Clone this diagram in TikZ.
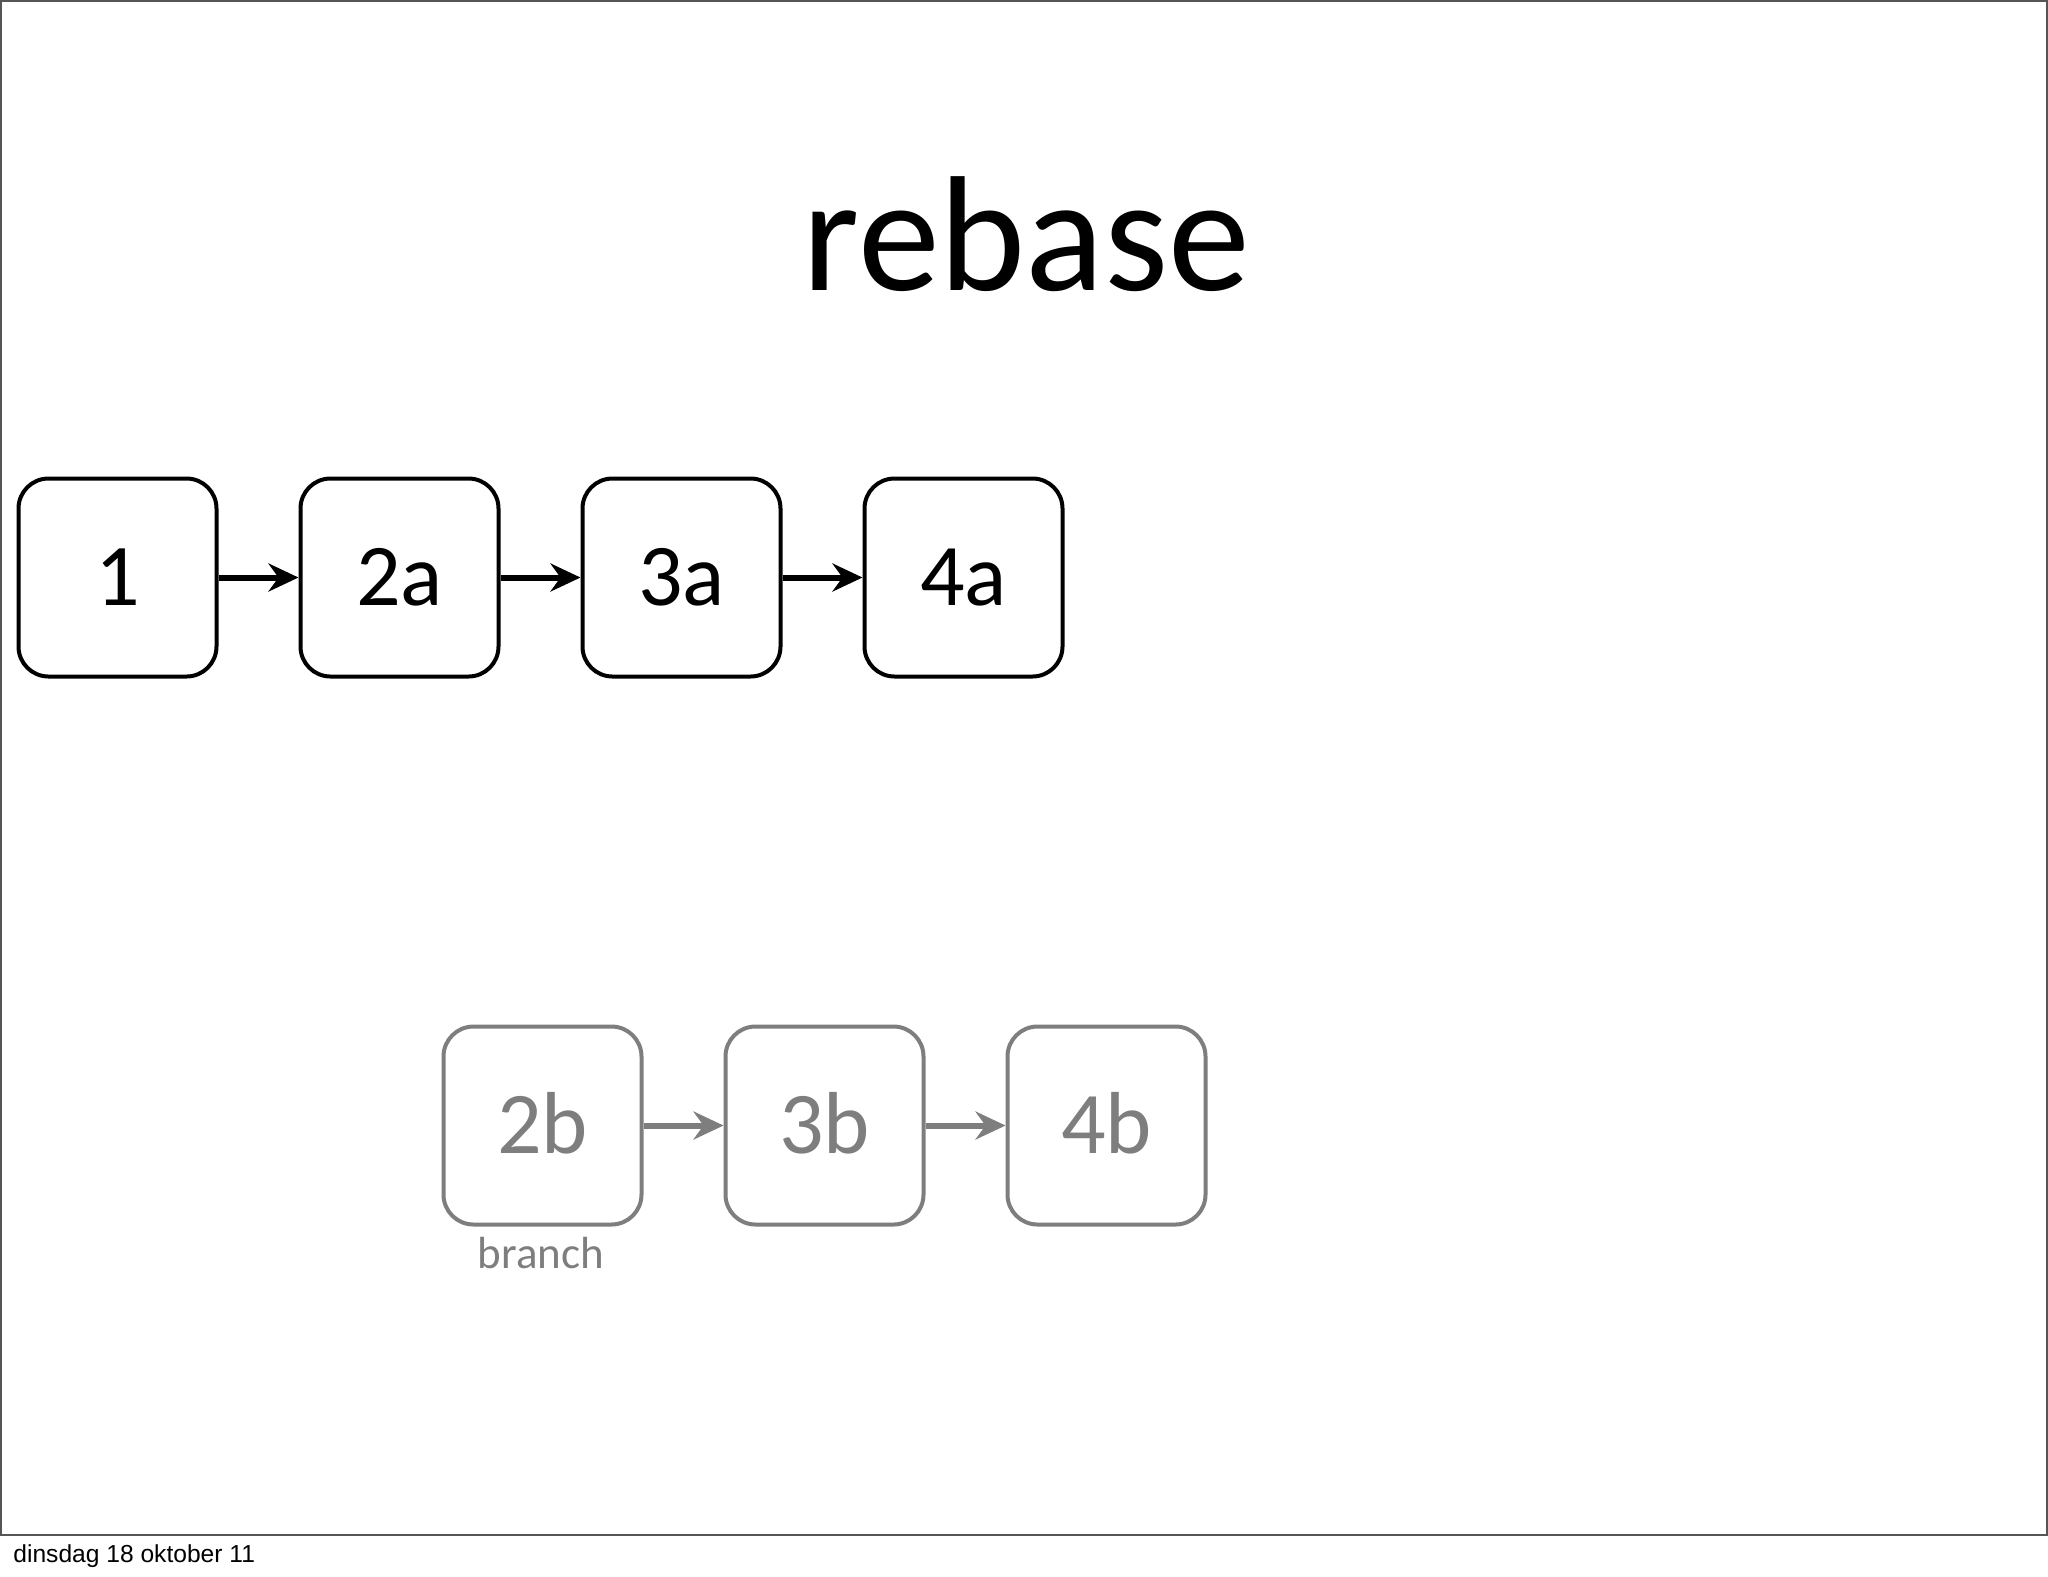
\documentclass[tikz,border=0pt]{standalone}
\usepackage{fontspec}
\setmainfont{Carlito}
\newfontfamily\footfont{Liberation Sans}
\usetikzlibrary{arrows.meta}
\definecolor{framegray}{RGB}{85,85,85}
\definecolor{branchgray}{RGB}{126,126,126}
\begin{document}
\begin{tikzpicture}[x=0.5pt,y=-0.5pt,
  commit/.style={draw, line width=2pt, rounded corners=15pt,
    minimum width=99pt, minimum height=99pt, inner sep=0pt,
    font=\fontsize{44}{44}\selectfont, text height=27.8pt, text depth=0pt},
  maincommit/.style={commit, draw=black, text=black},
  branchcommit/.style={commit, draw=branchgray, text=branchgray},
  link/.style={line width=3pt, -{Stealth[length=15pt,width=14pt,inset=5pt]}},
  mainlink/.style={link, draw=black},
  branchlink/.style={link, draw=branchgray},
  titletext/.style={inner sep=0pt, font=\fontsize{82}{82}\selectfont, text=black},
  labeltext/.style={inner sep=0pt, font=\fontsize{22.5}{22.5}\selectfont, text=branchgray},
  foottext/.style={inner sep=0pt, font=\footfont\fontsize{12.3}{12.3}\selectfont, text=black}]
\useasboundingbox (0,0) rectangle (2048,1576);
\fill[white] (0,0) rectangle (2048,1576);
\draw[framegray, line width=1.2pt] (1,1) rectangle (2047,1535);

\node[titletext, anchor=base] (title) at (1026.5,290) {rebase};

\node[maincommit] (c1) at (117.5,577.5) {1};
\node[maincommit] (c2a) at (399.5,577.5) {2a};
\node[maincommit] (c3a) at (681.5,577.5) {3a};
\node[maincommit] (c4a) at (963.5,577.5) {4a};

\draw[mainlink] (c1.east) -- (c2a.west);
\draw[mainlink] (c2a.east) -- (c3a.west);
\draw[mainlink] (c3a.east) -- (c4a.west);

\node[branchcommit] (c2b) at (542.5,1125.5) {2b};
\node[branchcommit] (c3b) at (824.5,1125.5) {3b};
\node[branchcommit] (c4b) at (1106.5,1125.5) {4b};

\draw[branchlink] (c2b.east) -- (c3b.west);
\draw[branchlink] (c3b.east) -- (c4b.west);

\node[labeltext, anchor=base] (branch) at (541,1268) {branch};

\node[foottext, anchor=base west] (date) at (13,1562) {dinsdag 18 oktober 11};
\end{tikzpicture}
\end{document}
